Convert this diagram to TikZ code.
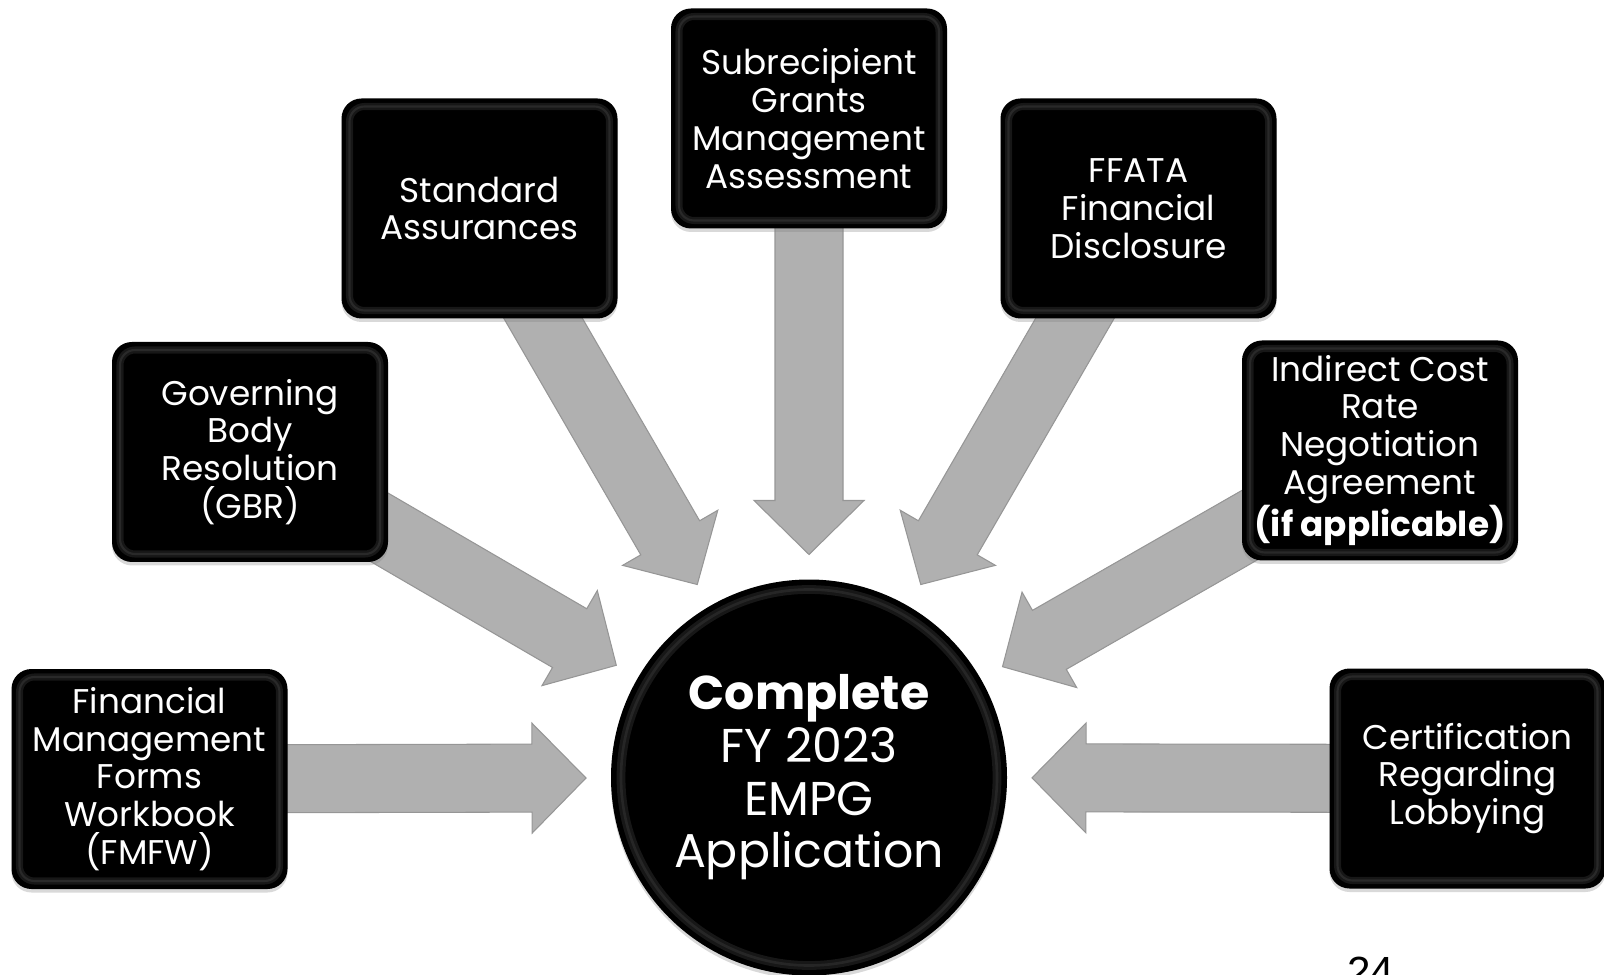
\documentclass[tikz,border=0pt]{standalone}
\usepackage{fontspec}
\setmainfont{Poppins}
\setsansfont{Liberation Sans}
\usetikzlibrary{calc, shadows}

\definecolor{arrowgray}{RGB}{176,176,176}
\definecolor{arrowedge}{RGB}{150,150,150}

\pgfdeclarelayer{back}
\pgfsetlayers{back,main}

\tikzset{
  item/.style={rectangle, rounded corners=0.4cm, fill=black, text=white,
    minimum width=5.52cm, minimum height=4.4cm, align=center, inner sep=2pt,
    font=\fontsize{19.5}{21.5}\selectfont,
    drop shadow={shadow xshift=0cm, shadow yshift=-0.07cm, opacity=0.3},
    path picture={
      \draw[gray!18!black, line width=4pt, rounded corners=0.3cm]
        ([shift={(0.16,-0.16)}]path picture bounding box.north west) rectangle
        ([shift={(-0.16,0.16)}]path picture bounding box.south east);
      \draw[gray!32!black, line width=1.2pt, rounded corners=0.3cm]
        ([shift={(0.16,-0.16)}]path picture bounding box.north west) rectangle
        ([shift={(-0.16,0.16)}]path picture bounding box.south east);}},
  hub/.style={circle, fill=black, text=white, minimum size=7.92cm, inner sep=0pt,
    align=center, font=\fontsize{27}{30}\selectfont,
    drop shadow={shadow xshift=0cm, shadow yshift=-0.07cm, opacity=0.3},
    path picture={
      \draw[gray!18!black, line width=5pt] (path picture bounding box.center) circle (3.76cm);
      \draw[gray!30!black, line width=1.5pt] (path picture bounding box.center) circle (3.76cm);}},
  feed/.style={fill=arrowgray, draw=arrowedge, line width=0.6pt, line join=miter},
}

\begin{document}
\begin{tikzpicture}
\useasboundingbox (0,0) rectangle (32.08,19.48);
\clip (0,0) rectangle (32.08,19.48);

% Centre
\node[hub] (app) at (16.18,3.93) {\textbf{Complete}\\FY 2023\\EMPG\\Application};

% Documents
\node[item] (fmfw) at (2.99,3.90) {Financial\\Management\\Forms\\Workbook\\(FMFW)};
\node[item] (gbr) at (5.00,10.44) {Governing\\Body\\Resolution\\(GBR)};
\node[item] (std) at (9.59,15.31) {Standard\\Assurances};
\node[item] (sub) at (16.18,17.11) {Subrecipient\\Grants\\Management\\Assessment};
\node[item] (ffata) at (22.77,15.31) {FFATA\\Financial\\Disclosure};
\node[item] (icr) at (27.60,10.47) {Indirect Cost\\Rate\\Negotiation\\Agreement\\\textbf{(if applicable)}};
\node[item] (lobby) at (29.35,3.91) {Certification\\Regarding\\Lobbying};

% Block arrows, box to centre
\begin{pgfonlayer}{back}
\foreach \b in {fmfw,gbr,std,sub,ffata,icr,lobby}
  \draw[feed] let \p1=($(\b.center)-(app.center)$), \n1={atan2(\y1,\x1)}, \n2={veclen(\x1,\y1)} in
    ($(app.center)+(\n1:4.46)$)
    -- ($(app.center)+(\n1:5.54)+(\n1+90:1.1)$)
    -- ($(app.center)+(\n1:5.54)+(\n1+90:0.68)$)
    -- ($(app.center)+(\n1:\n2)+(\n1+90:0.68)$)
    -- ($(app.center)+(\n1:\n2)+(\n1-90:0.68)$)
    -- ($(app.center)+(\n1:5.54)+(\n1-90:0.68)$)
    -- ($(app.center)+(\n1:5.54)+(\n1-90:1.1)$) -- cycle;
\end{pgfonlayer}

% Page number
\node[anchor=north west, inner sep=0pt, font=\sffamily\fontsize{24}{24}\selectfont] (pagenum) at (26.94,0.34) {24};
\end{tikzpicture}
\end{document}
